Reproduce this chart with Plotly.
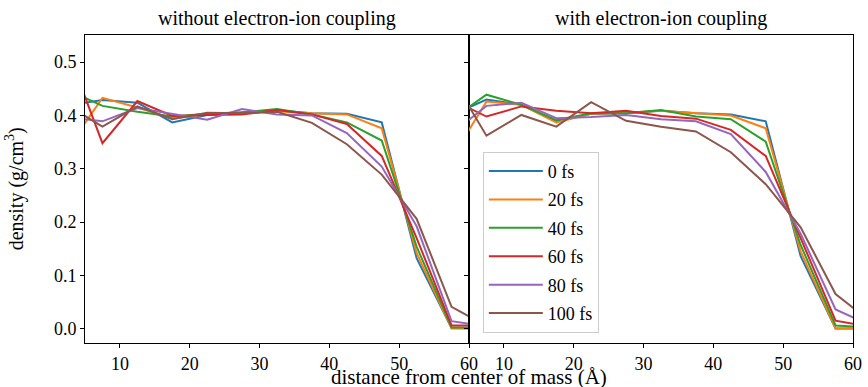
import plotly.graph_objects as go
from plotly.subplots import make_subplots

# distance from center of mass (Å), bin centres
distance = [2.5, 7.5, 12.5, 17.5, 22.5, 27.5, 32.5, 37.5, 42.5, 47.5, 52.5, 57.5, 62.5]

labels = ["0 fs", "20 fs", "40 fs", "60 fs", "80 fs", "100 fs"]
colors = ["#1f77b4", "#ff7f0e", "#2ca02c", "#d62728", "#9467bd", "#8c564b"]

# without electron-ion coupling
no_coupling_0fs   = [0.419, 0.429, 0.424, 0.387, 0.401, 0.405, 0.410, 0.404, 0.403, 0.387, 0.132, 0.001, 0.000]
no_coupling_20fs  = [0.339, 0.433, 0.415, 0.395, 0.402, 0.404, 0.408, 0.404, 0.402, 0.376, 0.142, 0.000, 0.000]
no_coupling_40fs  = [0.448, 0.418, 0.407, 0.398, 0.403, 0.406, 0.412, 0.402, 0.387, 0.353, 0.154, 0.002, 0.002]
no_coupling_60fs  = [0.522, 0.348, 0.427, 0.399, 0.401, 0.402, 0.410, 0.402, 0.384, 0.324, 0.170, 0.006, 0.006]
no_coupling_80fs  = [0.397, 0.389, 0.414, 0.403, 0.392, 0.412, 0.402, 0.400, 0.367, 0.304, 0.192, 0.014, 0.004]
no_coupling_100fs = [0.419, 0.379, 0.417, 0.393, 0.405, 0.404, 0.407, 0.386, 0.346, 0.289, 0.206, 0.041, 0.005]

# with electron-ion coupling
coupling_0fs   = [0.400, 0.430, 0.420, 0.389, 0.403, 0.404, 0.409, 0.404, 0.402, 0.389, 0.136, 0.000, 0.000]
coupling_20fs  = [0.320, 0.426, 0.420, 0.387, 0.403, 0.405, 0.409, 0.405, 0.400, 0.376, 0.145, 0.000, 0.000]
coupling_40fs  = [0.393, 0.439, 0.420, 0.391, 0.404, 0.404, 0.410, 0.398, 0.393, 0.351, 0.157, 0.006, 0.002]
coupling_60fs  = [0.430, 0.398, 0.417, 0.409, 0.404, 0.409, 0.399, 0.394, 0.373, 0.324, 0.170, 0.015, 0.003]
coupling_80fs  = [0.366, 0.418, 0.424, 0.395, 0.397, 0.401, 0.393, 0.389, 0.365, 0.294, 0.178, 0.036, 0.006]
coupling_100fs = [0.472, 0.362, 0.401, 0.379, 0.425, 0.390, 0.379, 0.370, 0.331, 0.271, 0.190, 0.065, 0.013]

no_coupling = [no_coupling_0fs, no_coupling_20fs, no_coupling_40fs,
               no_coupling_60fs, no_coupling_80fs, no_coupling_100fs]
coupling = [coupling_0fs, coupling_20fs, coupling_40fs,
            coupling_60fs, coupling_80fs, coupling_100fs]

x_ticks = [10, 20, 30, 40, 50, 60]
y_ticks = [0.0, 0.1, 0.2, 0.3, 0.4, 0.5]

FONT = "Liberation Serif"

fig = make_subplots(rows=1, cols=2, shared_yaxes=True, horizontal_spacing=0)

for i, (lab, col) in enumerate(zip(labels, colors)):
    fig.add_trace(go.Scatter(x=distance, y=no_coupling[i], mode="lines", name=lab,
                             line=dict(color=col, width=2), showlegend=False,
                             legendgroup=lab), row=1, col=1)
    fig.add_trace(go.Scatter(x=distance, y=coupling[i], mode="lines", name=lab,
                             line=dict(color=col, width=2), showlegend=True,
                             legendgroup=lab), row=1, col=2)

axis_common = dict(range=[5, 60], tickvals=x_ticks, ticks="outside", ticklen=4,
                   tickcolor="black", showline=True, linecolor="black", linewidth=1,
                   mirror=True, showgrid=False, zeroline=False,
                   tickfont=dict(family=FONT, size=18, color="black"))
fig.update_xaxes(**axis_common)
fig.update_xaxes(domain=[0, 0.5], row=1, col=1)
fig.update_xaxes(domain=[0.5, 1], row=1, col=2)

fig.update_yaxes(range=[-0.027, 0.551], tickvals=y_ticks, tickformat=".1f",
                 ticks="outside", ticklen=4, tickcolor="black", showline=True,
                 linecolor="black", linewidth=1, mirror=True, showgrid=False,
                 zeroline=False, tickfont=dict(family=FONT, size=18, color="black"))
fig.update_yaxes(showticklabels=False, row=1, col=2)

fig.update_layout(
    width=868, height=387,
    margin=dict(l=85, r=6, t=35, b=44),
    plot_bgcolor="white", paper_bgcolor="white",
    font=dict(family=FONT, size=18, color="black"),
    legend=dict(x=0.518, y=0.033, xanchor="left", yanchor="bottom",
                bgcolor="rgba(255,255,255,0.8)", bordercolor="#cccccc", borderwidth=1,
                font=dict(family=FONT, size=18, color="black"),
                itemwidth=54, tracegroupgap=2),
    annotations=[
        dict(text="without electron-ion coupling", x=0.25, y=1.055, xref="paper", yref="paper",
             showarrow=False, xanchor="center", yanchor="middle",
             font=dict(family=FONT, size=20, color="black")),
        dict(text="with electron-ion coupling", x=0.75, y=1.055, xref="paper", yref="paper",
             showarrow=False, xanchor="center", yanchor="middle",
             font=dict(family=FONT, size=20, color="black")),
        dict(text="distance from center of mass (Å)", x=0.5, y=-0.111, xref="paper", yref="paper",
             showarrow=False, xanchor="center", yanchor="middle",
             font=dict(family=FONT, size=21, color="black")),
        dict(text="density (g/cm<sup>3</sup>)", x=-0.092, y=0.5, xref="paper", yref="paper",
             showarrow=False, xanchor="center", yanchor="middle", textangle=-90,
             font=dict(family=FONT, size=20, color="black")),
    ],
)

fig.write_html("out.html")
